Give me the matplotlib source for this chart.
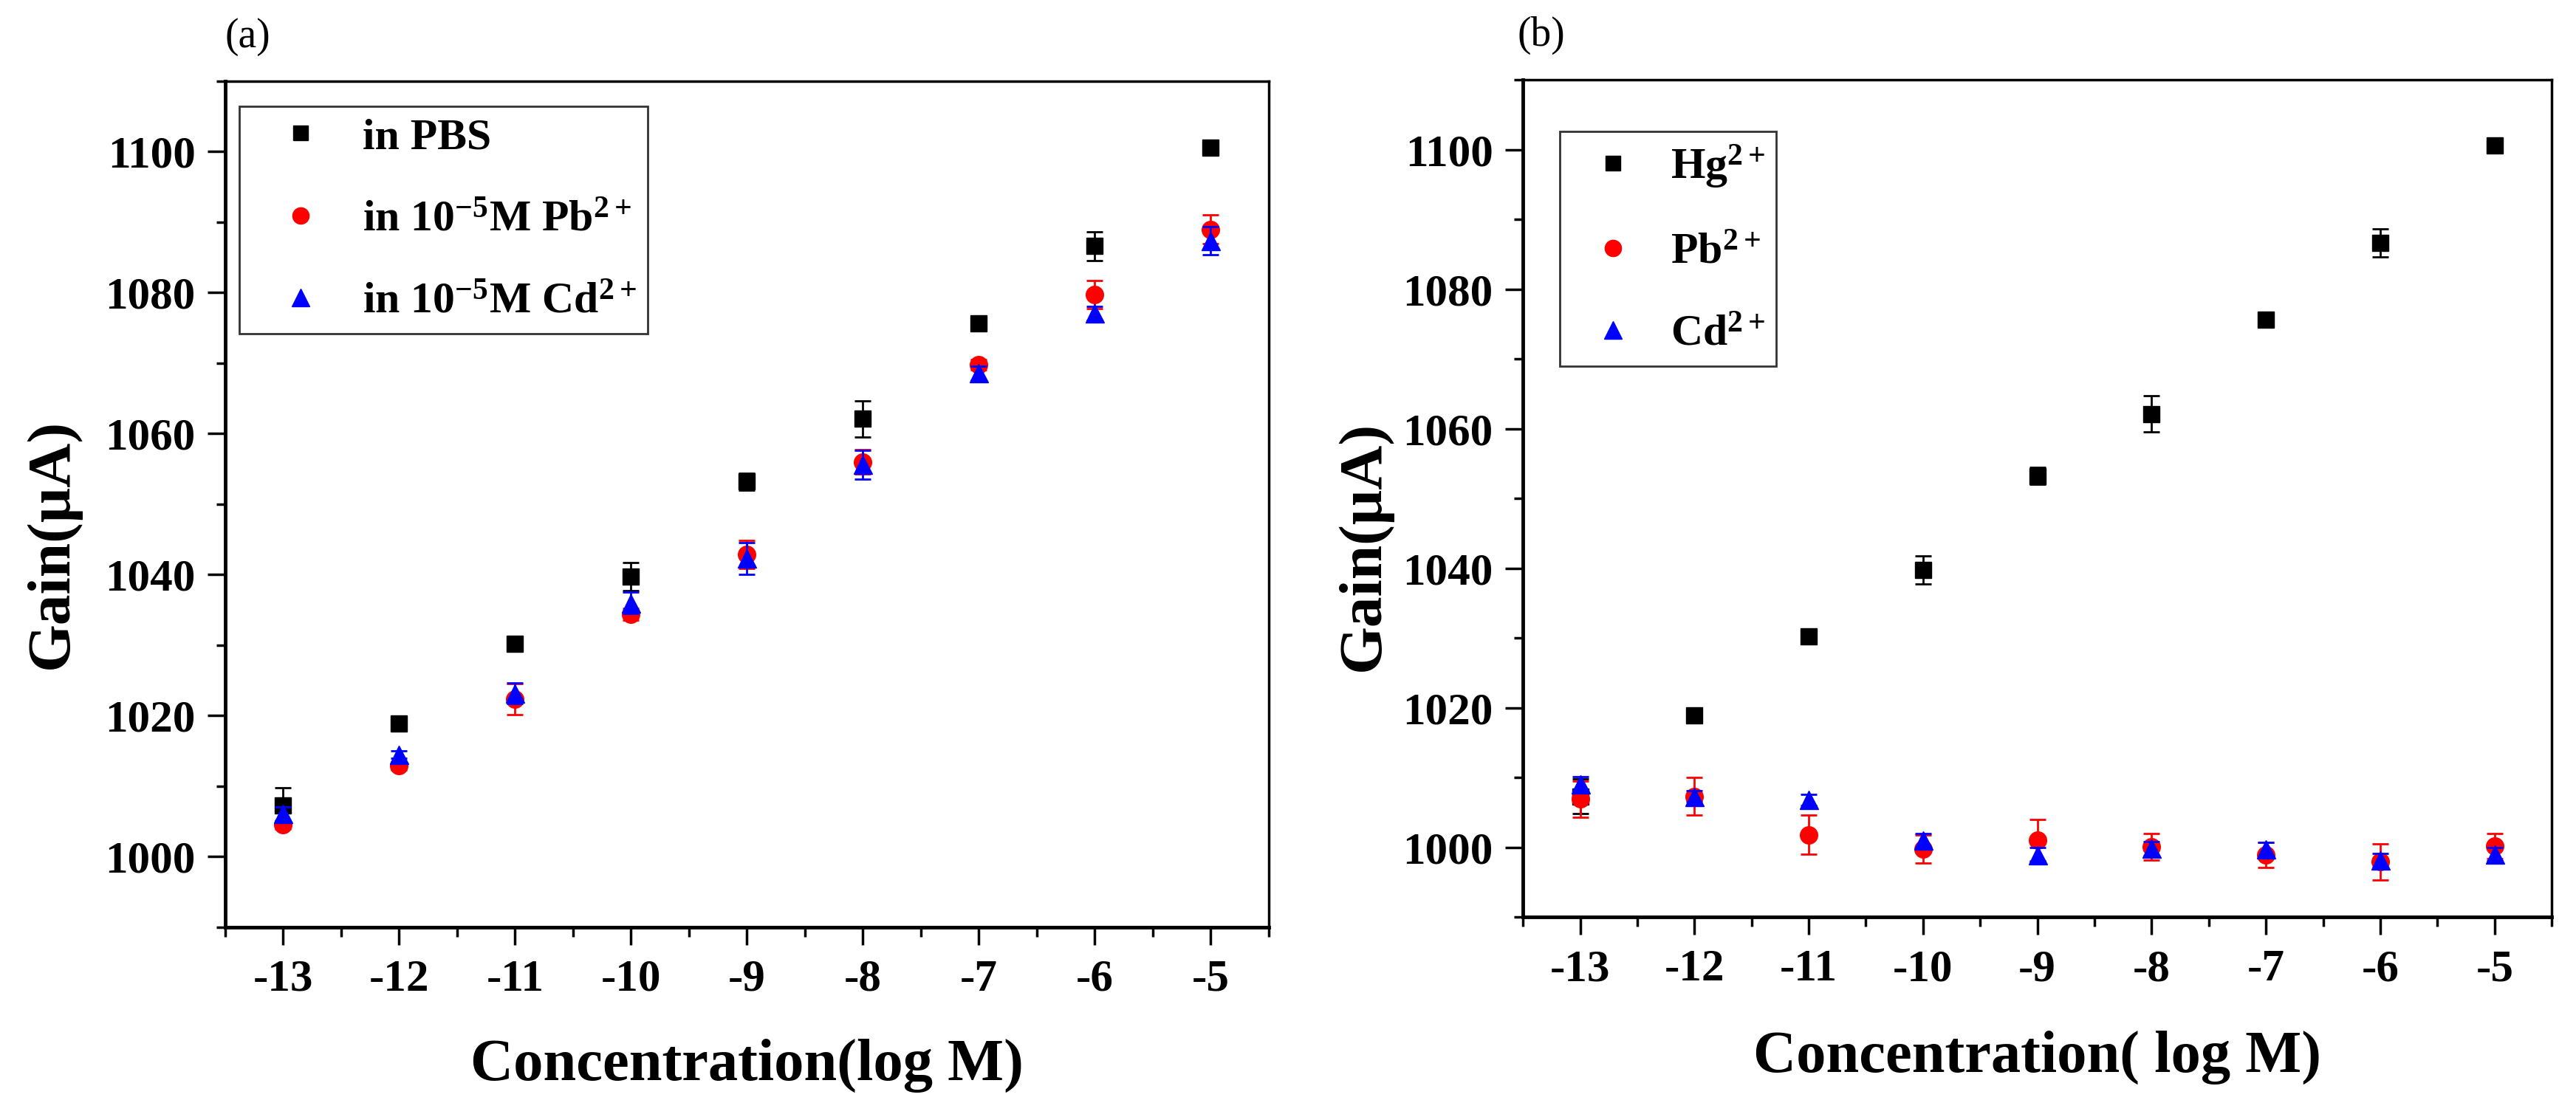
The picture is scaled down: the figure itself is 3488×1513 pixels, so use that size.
import numpy as np
import matplotlib
matplotlib.use("Agg")
import matplotlib.pyplot as plt
from matplotlib.lines import Line2D
from matplotlib.ticker import MultipleLocator

plt.rcParams['font.family'] = ['Liberation Serif', 'DejaVu Serif']
plt.rcParams['font.weight'] = 'bold'
plt.rcParams['mathtext.fontset'] = 'custom'
plt.rcParams['mathtext.rm'] = 'Liberation Serif:bold'
plt.rcParams['mathtext.it'] = 'Liberation Serif:bold'
plt.rcParams['mathtext.bf'] = 'Liberation Serif:bold'
plt.rcParams['axes.unicode_minus'] = False

# log concentration
conc = [-13, -12, -11, -10, -9, -8, -7, -6, -5]

# (a) selectivity in different backgrounds
pbs_gain = [1007.3, 1018.9, 1030.2, 1039.7, 1053.2, 1062.1, 1075.6, 1086.6, 1100.6]
pbs_err = [2.5, 0.5, 0.6, 2.0, 1.2, 2.6, 0.6, 2.0, 0.6]
pb_bg_gain = [1004.5, 1012.9, 1022.4, 1034.4, 1042.9, 1056.0, 1069.8, 1079.7, 1089.0]
pb_bg_err = [0.6, 0.6, 2.2, 0.8, 2.0, 1.7, 0.7, 2.0, 2.0]
cd_bg_gain = [1006.1, 1014.5, 1023.2, 1036.0, 1042.3, 1055.6, 1068.6, 1077.1, 1087.4]
cd_bg_err = [1.0, 0.5, 1.5, 1.5, 2.2, 2.0, 1.0, 1.0, 2.0]

# (b) response to each ion
hg_gain = [1007.3, 1018.9, 1030.2, 1039.7, 1053.2, 1062.1, 1075.6, 1086.6, 1100.6]
hg_err = [2.5, 0.5, 0.6, 2.0, 1.2, 2.6, 0.6, 2.0, 0.6]
pb_gain = [1006.9, 1007.3, 1001.8, 999.7, 1001.0, 1000.1, 998.9, 997.9, 1000.2]
pb_err = [2.6, 2.7, 2.8, 2.0, 3.0, 1.9, 1.8, 2.6, 1.8]
cd_gain = [1009.1, 1007.3, 1006.8, 1001.0, 998.9, 999.8, 999.7, 998.1, 999.0]
cd_err = [1.0, 0.8, 0.8, 1.0, 1.0, 1.0, 1.0, 1.0, 1.0]

labels_a = ['in PBS', 'in 10$^{-5}$M Pb$^{2+}$', 'in 10$^{-5}$M Cd$^{2+}$']
labels_b = ['Hg$^{2+}$', 'Pb$^{2+}$', 'Cd$^{2+}$']

colors = ['black', '#ff0000', '#0000ff']
markers = ['s', 'o', '^']
msize = [16, 17, 18]

fig = plt.figure(figsize=(34.88, 15.13), dpi=100)
ax1 = fig.add_axes([0.0874, 0.1699, 0.4051, 0.7574])
ax2 = fig.add_axes([0.5912, 0.1791, 0.3994, 0.7495])


def draw(ax, series, errs, labels, leg_box, hlen, hpad):
    for i, (y, e) in enumerate(zip(series, errs)):
        ax.errorbar(conc, y, yerr=e, fmt=markers[i], color=colors[i],
                    ms=msize[i], mec=colors[i], elinewidth=2, capsize=8,
                    capthick=2, zorder=3 + i)
    ax.set_xlim(-13.5, -4.5)
    ax.set_ylim(990, 1110)
    ax.xaxis.set_major_locator(MultipleLocator(1))
    ax.xaxis.set_minor_locator(MultipleLocator(0.5))
    ax.yaxis.set_major_locator(MultipleLocator(20))
    ax.yaxis.set_minor_locator(MultipleLocator(10))
    ax.tick_params(which='major', direction='out', length=17, width=2.5,
                   labelsize=44, pad=12)
    ax.tick_params(which='minor', direction='out', length=9, width=2.5)
    ax.tick_params(axis='x', which='major', pad=14)
    for s in ['left', 'bottom']:
        ax.spines[s].set_linewidth(3.5)
    for s in ['top', 'right']:
        ax.spines[s].set_linewidth(2.5)
    for t in ax.get_xticklabels() + ax.get_yticklabels():
        t.set_fontweight('bold')
    handles = [Line2D([], [], marker=markers[i], color=colors[i], ls='none',
                      ms=msize[i] - 1) for i in range(3)]
    leg = ax.legend(handles, labels, loc='upper left', bbox_to_anchor=leg_box,
                    frameon=True, fancybox=False, edgecolor='black',
                    prop={'size': 43, 'weight': 'bold'}, labelspacing=0.95,
                    handletextpad=hpad, borderpad=0.25, handlelength=hlen,
                    borderaxespad=0)
    leg.get_frame().set_linewidth(2)


draw(ax1, [pbs_gain, pb_bg_gain, cd_bg_gain], [pbs_err, pb_bg_err, cd_bg_err],
     labels_a, (0.0134, 0.970), 2.3, 0.25)
draw(ax2, [hg_gain, pb_gain, cd_gain], [hg_err, pb_err, cd_err],
     labels_b, (0.036, 0.938), 1.9, 0.35)

ax1.set_xlabel('Concentration(log M)', fontsize=58, fontweight='bold')
ax1.set_ylabel('Gain(μA)', fontsize=60, fontweight='bold')
ax1.xaxis.set_label_coords(0.50, -0.132)
ax1.yaxis.set_label_coords(-0.139, 0.453)

ax2.set_xlabel('Concentration( log M)', fontsize=58, fontweight='bold')
ax2.set_ylabel('Gain(μA)', fontsize=60, fontweight='bold')
ax2.xaxis.set_label_coords(0.50, -0.136)
ax2.yaxis.set_label_coords(-0.127, 0.443)

fig.text(335 / 3488, 1 - 50 / 1513, '(a)', fontsize=40, fontweight='normal',
         ha='center', va='center')
fig.text(2087 / 3488, 1 - 48 / 1513, '(b)', fontsize=40, fontweight='normal',
         ha='center', va='center')

fig.savefig('out.png', dpi=100)
